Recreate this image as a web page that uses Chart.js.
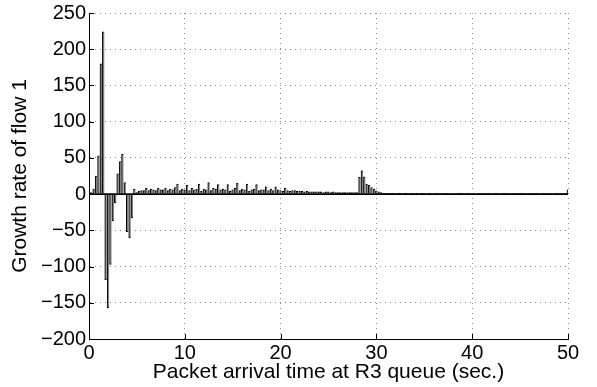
<!DOCTYPE html>
<html lang="en">
<head>
    <meta charset="UTF-8">
    <title>Growth rate of flow 1</title>
    <script src="https://cdn.jsdelivr.net/npm/chart.js"></script>
    <style>
        body {
            margin: 0;
            padding: 0;
            background-color: #fff;
        }
        #wrap {
            position: relative;
            width: 597px;
            height: 387px;
        }
    </style>
</head>
<body>
    <div id="wrap">
        <canvas id="myChart"></canvas>
    </div>

    <script>
        // sampling interval of the growth-rate samples (sec.)
        const sampleInterval = 0.25;

        // growth rate of flow 1, one value per sample (0.25 s .. 50 s)
        const growthRate = [
            2, 7, 25, 53, 180, 224, -118, -157, -97, -37, -12, 28, 45, 55, 16, -52, -60, -33, 7, 2,
            4, 5, 5, 8, 5, 7, 6, 5, 8, 6, 6, 8, 5, 7, 6, 9, 14, 5, 7, 6,
            12, 5, 8, 6, 7, 14, 4, 7, 6, 16, 5, 8, 7, 13, 6, 7, 6, 13, 4, 6,
            8, 15, 5, 7, 6, 14, 4, 6, 7, 13, 5, 6, 6, 10, 5, 7, 5, 10, 6, 5,
            4, 8, 5, 4, 5, 5, 4, 4, 4, 3, 4, 3, 3, 3, 3, 3, 3, 2, 3, 3,
            2, 3, 2, 2, 2, 2, 2, 2, 2, 2, 2, 2, 23, 32, 24, 14, 12, 9, 6.5, 4.6,
            3, 2, 1.5, 1.2, 1, 1.1, 1, 0.9, 1, 1, 0.9, 1, 1, 0.9, 1, 0.8, 1, 0.9, 1, 0.8,
            0.9, 1, 0.8, 0.9, 1, 0.8, 0.9, 0.8, 1, 0.8, 0.9, 0.8, 0.9, 0.8, 1, 0.8, 0.9, 0.8, 0.8, 0.9,
            0.8, 0.9, 0.8, 0.8, 0.9, 0.8, 0.8, 0.9, 0.8, 0.8, 0.8, 0.9, 0.8, 0.8, 0.8, 0.9, 0.8, 0.8, 0.8, 0.8,
            0.8, 0.8, 0.9, 0.8, 0.8, 0.8, 0.8, 0.9, 0.8, 0.8, 0.8, 0.8, 0.8, 0.9, 0.8, 0.8, 0.8, 0.8, 0.8, 6
        ];

        const sampleTimes = growthRate.map((_, i) => (i + 1) * sampleInterval);

        // axis ranges and tick steps
        const xRange = [0, 50], xStep = 10;
        const yRange = [-200, 250], yStep = 50;

        const xTitle = 'Packet arrival time at R3 queue (sec.)';
        const yTitle = 'Growth rate of flow 1';

        const fontFamily = '"Liberation Sans", Arial, Helvetica, sans-serif';

        // matlab style: zero baseline and ticks drawn inside the axes
        const matlabAxes = {
            id: 'matlabAxes',
            afterDatasetsDraw(chart) {
                const { ctx, chartArea, scales } = chart;
                const x = scales.x, y = scales.y;
                ctx.save();
                ctx.strokeStyle = '#000';
                ctx.lineWidth = 1.6;
                const y0 = y.getPixelForValue(0);
                ctx.beginPath();
                ctx.moveTo(chartArea.left, y0);
                ctx.lineTo(chartArea.right, y0);
                ctx.stroke();

                ctx.lineWidth = 1;
                ctx.beginPath();
                y.ticks.forEach(t => {
                    const py = Math.round(y.getPixelForValue(t.value)) + 0.5;
                    ctx.moveTo(chartArea.left, py);
                    ctx.lineTo(chartArea.left + 5, py);
                });
                x.ticks.forEach(t => {
                    const px = Math.round(x.getPixelForValue(t.value)) + 0.5;
                    ctx.moveTo(px, chartArea.bottom);
                    ctx.lineTo(px, chartArea.bottom - 5);
                });
                ctx.stroke();
                ctx.restore();
            }
        };

        const ctx = document.getElementById('myChart').getContext('2d');
        new Chart(ctx, {
            type: 'bar',
            data: {
                datasets: [{
                    label: 'Growth rate of flow 1',
                    data: sampleTimes.map((t, i) => ({ x: t, y: growthRate[i] })),
                    backgroundColor: '#808080',
                    borderColor: '#000',
                    borderWidth: { left: 1, top: 1, bottom: 1, right: 0 },
                    borderSkipped: 'start',
                    barThickness: 2,
                    grouped: false
                }]
            },
            options: {
                responsive: true,
                maintainAspectRatio: false,
                animation: false,
                layout: {
                    padding: { top: 13, right: 29, left: 0, bottom: 0 }
                },
                plugins: {
                    legend: { display: false },
                    tooltip: { enabled: false }
                },
                scales: {
                    x: {
                        type: 'linear',
                        min: xRange[0],
                        max: xRange[1],
                        offset: false,
                        afterFit: scale => { scale.height = 48; },
                        ticks: {
                            stepSize: xStep,
                            autoSkip: false,
                            color: '#000',
                            padding: 2,
                            maxRotation: 0,
                            font: { family: fontFamily, size: 20 }
                        },
                        grid: {
                            offset: false,
                            color: '#8a8a8a',
                            drawTicks: false
                        },
                        border: {
                            color: '#000',
                            width: 1,
                            dash: [1, 4]
                        },
                        title: {
                            display: true,
                            text: xTitle,
                            color: '#000',
                            padding: { top: 0, bottom: 2.5 },
                            font: { family: fontFamily, size: 21 }
                        }
                    },
                    y: {
                        min: yRange[0],
                        max: yRange[1],
                        afterFit: scale => {
                            scale.width = 89;
                            // let the layout padding alone decide the top edge
                            scale.paddingTop = 0;
                            scale.paddingBottom = 0;
                        },
                        ticks: {
                            stepSize: yStep,
                            autoSkip: false,
                            color: '#000',
                            padding: 3,
                            font: { family: fontFamily, size: 20 },
                            callback: v => String(v).replace('-', '\u2212')
                        },
                        grid: {
                            color: '#8a8a8a',
                            drawTicks: false
                        },
                        border: {
                            color: '#000',
                            width: 1,
                            dash: [1, 4]
                        },
                        title: {
                            display: true,
                            text: yTitle,
                            color: '#000',
                            padding: { top: 7.5, bottom: 0 },
                            font: { family: fontFamily, size: 21 }
                        }
                    }
                }
            },
            plugins: [matlabAxes]
        });
    </script>
</body>
</html>
